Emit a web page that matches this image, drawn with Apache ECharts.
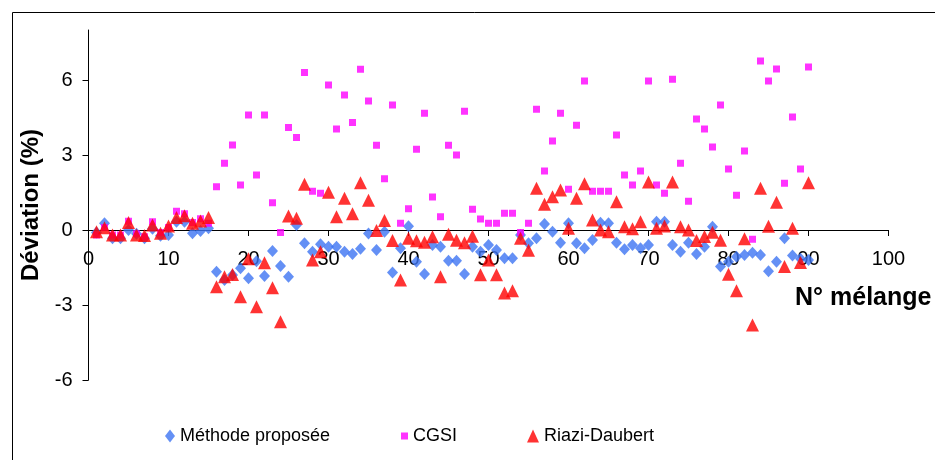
<!DOCTYPE html>
<html>
<head>
<meta charset="utf-8">
<script src="https://cdn.jsdelivr.net/npm/echarts@6/dist/echarts.min.js"></script>
<style>
  html, body { margin: 0; padding: 0; background: #fff; }
  #chart { width: 935px; height: 460px; }
</style>
</head>
<body>
<div id="chart"></div>
<script>
// Deviation (%) for each mixture number, one array per method
const seriesNames = ['Méthode proposée', 'CGSI', 'Riazi-Daubert'];

const methode = [
  -0.1, 0.27, -0.33, -0.33, 0.0, -0.15, -0.33, 0.05, -0.23, -0.2,
  0.33, 0.33, -0.13, -0.04, 0.07, -1.67, -2.0, -1.8, -1.53, -1.93,
  -1.25, -1.84, -0.84, -1.44, -1.87, 0.2, -0.53, -0.87, -0.57, -0.67,
  -0.67, -0.87, -0.96, -0.75, -0.14, -0.8, -0.07, -1.7, -0.73, 0.15,
  -1.27, -1.76, -0.6, -0.67, -1.23, -1.23, -1.76, -0.67, -0.87, -0.6,
  -0.8, -1.13, -1.13, -0.2, -0.53, -0.33, 0.24, -0.07, -0.51, 0.27,
  -0.53, -0.73, -0.4, 0.29, 0.27, -0.51, -0.77, -0.6, -0.73, -0.6,
  0.33, 0.33, -0.6, -0.87, -0.51, -0.96, -0.67, 0.13, -1.46, -1.27,
  -1.07, -1.0, -0.91, -1.0, -1.65, -1.27, -0.33, -1.02, -1.15, -1.2
];

const cgsi = [
  -0.2, 0.1, -0.2, -0.2, 0.35, -0.15, -0.27, 0.33, -0.1, 0.1,
  0.75, 0.65, 0.3, 0.45, 0.27, 1.73, 2.67, 3.4, 1.8, 4.6,
  2.2, 4.6, 1.09, -0.1, 4.1, 3.7, 6.3, 1.55, 1.47, 5.8,
  4.04, 5.4, 4.3, 6.43, 5.16, 3.39, 2.05, 5.0, 0.27, 0.85,
  3.23, 4.67, 1.32, 0.53, 3.39, 3.0, 4.75, 0.83, 0.44, 0.27,
  0.27, 0.67, 0.67, -0.1, 0.27, 4.83, 2.36, 3.56, 4.67, 1.63,
  4.19, 5.96, 1.55, 1.55, 1.55, 3.8, 2.2, 1.8, 2.36, 5.96,
  1.8, 1.47, 6.03, 2.67, 1.15, 4.44, 4.04, 3.32, 5.0, 2.44,
  1.39, 3.16, -0.37, 6.76, 5.96, 6.44, 1.87, 4.52, 2.44, 6.52
];

const riazi = [
  -0.07, 0.09, -0.2, -0.2, 0.3, -0.2, -0.22, 0.2, -0.13, 0.16,
  0.5, 0.57, 0.27, 0.36, 0.5, -2.27, -1.87, -1.78, -2.67, -1.15,
  -3.07, -1.31, -2.31, -3.67, 0.56, 0.47, 1.83, -1.2, -0.87, 1.51,
  0.53, 1.27, 0.65, 1.89, 1.19, -0.02, 0.38, -0.42, -2.0, -0.33,
  -0.43, -0.49, -0.27, -1.87, -0.17, -0.41, -0.51, -0.25, -1.79, -1.2,
  -1.79, -2.52, -2.43, -0.33, -0.81, 1.67, 1.03, 1.33, 1.6, 0.07,
  1.27, 1.85, 0.4, 0.0, -0.07, 1.13, 0.13, 0.05, 0.33, 1.92,
  0.07, 0.16, 1.92, 0.13, 0.0, -0.42, -0.26, -0.09, -0.41, -1.77,
  -2.43, -0.35, -3.8, 1.67, 0.15, 1.11, -1.46, 0.07, -1.3, 1.89
];

const yTickValues = [-6, -3, 0, 3, 6];

const FONT = "'Liberation Sans', Arial, sans-serif";
const colors = ['#3D74F2', '#FF00FF', '#FF0000'];

function toPoints(values) {
  return values.map((v, i) => [i + 1, v]);
}

const chart = echarts.init(document.getElementById('chart'), null, { renderer: 'canvas' });

// The horizontal axis sits on the zero line of the deviation scale:
// grid bottom is at -6, so it is lifted by 6 units * 25 px.
const xAxisLift = -150;

chart.setOption({
  animation: false,
  backgroundColor: '#fff',
  textStyle: { fontFamily: FONT },
  grid: { left: 88.5, right: 46.5, top: 30, bottom: 80, containLabel: false },
  xAxis: {
    type: 'value',
    min: 0, max: 100, interval: 10,
    offset: xAxisLift,
    axisLine: { onZero: false, lineStyle: { color: '#000', width: 1 } },
    axisTick: { show: true, inside: false, length: 6, lineStyle: { color: '#000' } },
    axisLabel: { color: '#000', fontSize: 20, margin: 19, fontFamily: FONT },
    splitLine: { show: false }
  },
  yAxis: {
    type: 'value',
    min: -6, max: 8, interval: 3,
    name: 'Déviation (%)',
    nameLocation: 'middle',
    nameGap: 45,
    nameTextStyle: { color: '#000', fontSize: 24, fontWeight: 'bold', fontFamily: FONT },
    axisLine: { show: true, onZero: false, lineStyle: { color: '#000', width: 1 } },
    axisTick: { show: true, length: 6, customValues: yTickValues, lineStyle: { color: '#000' } },
    axisLabel: { color: '#000', fontSize: 20, margin: 16, customValues: yTickValues, fontFamily: FONT },
    splitLine: { show: false }
  },
  legend: [
    {
      data: [{ name: seriesNames[0], icon: 'diamond' }],
      left: 160, top: 422, itemWidth: 10, itemHeight: 13, itemGap: 0,
      textStyle: { color: '#000', fontSize: 18, fontFamily: FONT }
    },
    {
      data: [{ name: seriesNames[1], icon: 'rect' }],
      left: 396, top: 422, itemWidth: 7, itemHeight: 7, itemGap: 0,
      textStyle: { color: '#000', fontSize: 18, fontFamily: FONT }
    },
    {
      data: [{ name: seriesNames[2], icon: 'triangle' }],
      left: 522, top: 422, itemWidth: 12, itemHeight: 13, itemGap: 0,
      textStyle: { color: '#000', fontSize: 18, fontFamily: FONT }
    }
  ],
  series: [
    {
      name: seriesNames[0], type: 'scatter', symbol: 'diamond', symbolSize: [11, 12],
      itemStyle: { color: colors[0] }, data: toPoints(methode), z: 2
    },
    {
      name: seriesNames[1], type: 'scatter', symbol: 'rect', symbolSize: 7,
      itemStyle: { color: colors[1] }, data: toPoints(cgsi), z: 3
    },
    {
      name: seriesNames[2], type: 'scatter', symbol: 'triangle', symbolSize: [13, 13],
      itemStyle: { color: colors[2] }, data: toPoints(riazi), z: 4
    }
  ],
  graphic: [
    {
      type: 'rect', left: 10, top: 10, silent: true,
      shape: { width: 940, height: 470 },
      style: { fill: 'none', stroke: '#000', lineWidth: 1 }
    },
    {
      type: 'text', left: 795, top: 286, silent: true,
      style: { text: 'N° mélange', fill: '#000', font: "bold 25px 'Liberation Sans', Arial, sans-serif" }
    }
  ]
});
</script>
</body>
</html>
